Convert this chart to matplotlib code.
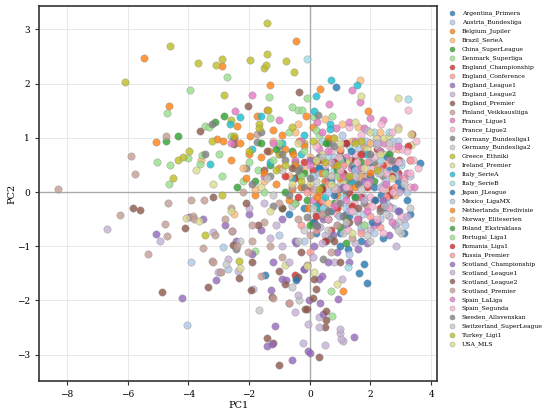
import matplotlib
matplotlib.use('Agg')
import matplotlib.pyplot as plt

leagues = ['Argentina_Primera', 'Austria_Bundesliga', 'Belgium_Jupiler', 'Brazil_SerieA',
           'China_SuperLeague', 'Denmark_Superliga', 'England_Championship', 'England_Conference',
           'England_League1', 'England_League2', 'England_Premier', 'Finland_Veikkausliiga',
           'France_Ligue1', 'France_Ligue2', 'Germany_Bundesliga1', 'Germany_Bundesliga2',
           'Greece_Ethniki', 'Ireland_Premier', 'Italy_SerieA', 'Italy_SerieB',
           'Japan_JLeague', 'Mexico_LigaMX', 'Netherlands_Eredivisie', 'Norway_Eliteserien',
           'Poland_Ekstraklasa', 'Portugal_Liga1', 'Romania_Liga1', 'Russia_Premier',
           'Scotland_Championship', 'Scotland_League1', 'Scotland_League2', 'Scotland_Premier',
           'Spain_LaLiga', 'Spain_Segunda', 'Sweden_Allsvenskan', 'Switzerland_SuperLeague',
           'Turkey_Ligi1', 'USA_MLS']

# PCA scores per league
pc1 = {
    'Argentina_Primera': [1.9, 1.62, 1.27, 0.86, 3.63, 2.1, 2.5, 1.4, 0.9, 2.8, 1.1, 2.3, 0.6, 1.7, 2.9, 3.1, 1.5, 0.4, 2.2, -1.46, 1.0, 2.6, 1.8, 0.7, 2.35, 1.2, 0.5, 2.95, 1.65, 0.2],
    'Austria_Bundesliga': [-4.03, -3.91, -2.7, 2.2, 1.1, 0.5, 1.8, 2.6, 0.2, 1.4, 2.9, -0.3, 0.9, 3.2, 1.6, 2.3, 0.7, -1.0, 1.95, 2.75, 1.25, 2.45, 0.3, 1.75, 2.9],
    'Belgium_Jupiler': [-5.46, -4.64, -5.06, -3.05, -2.89, -1.3, -0.45, -1.41, -1.75, -2.4, -1.96, -2.86, 0.35, 1.92, -0.12, -0.8, -1.0, -0.3, 0.2, 0.5, -1.6, -0.6, 0.9, 1.1],
    'Brazil_SerieA': [-3.6, 1.65, 1.06, 1.59, -1.0, 0.3, -0.5, 2.1, 0.7, -1.5, 2.9, 1.3, -0.2, 0.9, 2.5, -2.5, 0.1, 1.8],
    'China_SuperLeague': [-3.11, -4.33, -4.74, -2.83, -0.4, 0.8, -1.3, -0.9, 1.3, 0.1, -1.8, 0.5, -0.1, 1.0, -2.4, 1.2, 0.6, -0.6, 0.3, 1.6, -0.5],
    'Denmark_Superliga': [-3.94, -4.7, -3.46, -3.33, -5.02, -4.6, -4.0, -3.56, -3.62, -4.64, -2.73, -1.33, -0.57, -0.4, -0.24, -1.3, -2.6, -1.82, -0.08, 0.14, 0.73, -1.7, -2.2],
    'England_Championship': [-2.5, 0.1, 0.6, 1.2, 1.8, 2.4, 0.9, 1.5, 2.1, 3.38, -0.5, 0.3, 1.0, 2.7, 1.6, 0.0, -0.49, 2.9, 1.3, 0.7, 2.2, 0.4, 1.7, 2.95],
    'England_Conference': [-0.67, 0.9, 1.9, 2.8, -0.3, 1.3, 2.3, 0.4, 1.6, 3.1, 0.0],
    'England_League1': [-5.08, -4.22, -3.98, -3.53, -3.08, -2.42, -1.92, -1.28, -1.13, -1.42, -0.6, -0.06, -0.04, -0.78, -0.2, -1.2, 0.9, 0.3, 1.2, -0.9, 0.5, -2.0, 1.5, 0.15, 0.75, 1.9, -0.45, 2.6, 1.3],
    'England_League2': [-6.69, -4.92, -3.19, -3.03, -2.96, -2.36, -2.56, -2.69, -1.86, -0.49, -0.23, -0.06, 1.0, 1.1, 0.3, 0.8, 2.0, 2.6, 3.1, 1.5, -0.9, 0.5, 2.3, -1.5, 1.7, 0.35, 2.85, -1.3, 1.05],
    'England_Premier': [-5.81, -5.58, -4.88, -4.1, -3.36, -3.63, -2.32, -2.53, -1.94, -1.26, -1.4, -1.21, -1.0, -0.08, -0.82, -0.45, -0.39, -1.03, 0.3, 0.5, 0.15, -2.05, -2.51, -0.37, -1.5],
    'Finland_Veikkausliiga': [-8.28, -5.88, -5.77, -4.74, -6.24, -4.66, -4.76, -4.72, -5.34, -3.85, -3.8, -3.53, -3.21, -3.13, -2.93, -2.04, -1.89, -1.2, -0.67, -1.75, -2.6, -3.9, -1.5, -0.9],
    'France_Ligue1': [-1.91, -2.47, -1.0, -2.6, 1.4, 1.67, 0.63, 0.85, 1.98, 2.4, 1.8, 0.3, 1.2, 2.2, 2.8, 0.6, -0.5, 1.6, 2.6, 0.1, -1.5, 1.0, 3.0, 2.0, 1.35, 2.45, 0.9, 1.75, 2.9, 0.45, 2.1, 3.3],
    'France_Ligue2': [3.25, 2.9, 3.4, 3.55, 1.5, 2.2, 2.7, 1.1, 0.5, 1.9, 2.4, 3.1, 0.9, 1.6, 2.0, 2.6, 3.0, 1.3, 0.3, 0.7, 2.3, 1.8, 3.3, 2.8, 1.15, 2.05, 2.55, 1.45, 0.75, 3.05, 2.35, 1.7],
    'Germany_Bundesliga1': [-3.23, -3.45, -2.44, -1.73, 0.28, -0.8, 0.5, 1.2, -1.3, -0.2, 0.9, -2.1, 1.8, -0.5, 0.1, 1.4, -1.6, 2.4, 0.7, -1.0, 0.6, 1.0, -0.35, 1.6, -1.2, 2.1],
    'Germany_Bundesliga2': [-2.75, -1.66, -0.35, -0.57, 2.9, 1.5, 0.6, 1.9, 2.4, -0.6, 0.2, 1.0, 2.2, -1.2, 3.0, 1.3, -2.3, 0.9, 1.7, 0.4, 2.7, 1.1, -0.2, 2.0],
    'Greece_Ethniki': [-6.1, -4.6, -3.69, -3.09, -2.9, -1.4, -1.4, -1.97, -1.51, -0.79, -0.53, -3.23, -4.33, -4.17, -3.98, -4.52, -2.82, -1.37, -2.6, -2.51, -1.66, -1.0, -0.2, -3.44, -2.32],
    'Ireland_Premier': [-3.75, -3.2, -4.08, -3.66, -2.29, 1.68, 2.92, 3.32, 3.33, 2.17, 2.46, 2.6, 2.9, -0.5, 0.4, 1.2, -1.3, -0.8, 1.9, 0.9, 2.4, 1.1, 0.0],
    'Italy_SerieA': [-3.28, -2.3, -1.6, -2.63, 0.69, 1.56, 0.21, 0.15, 0.66, 0.66, -0.9, -0.3, 0.3, 1.0, -1.3, 1.5, -0.6, 0.9, -1.9, 2.0, 0.5, 0.45, 1.35, 0.2, 1.9, -0.2],
    'Italy_SerieB': [-0.08, 3.25, 2.11, 2.6, 1.3, 0.8, 2.3, 1.9, 0.4, 1.6, 2.8, 1.1, 0.1, 2.5, 1.27, 0.45, 1.5, 2.1, 0.6, 3.0],
    'Japan_JLeague': [1.78, -0.46, 2.0, 1.2, 0.3, 2.7, 1.6, 0.8, 3.0, 2.4, 1.3, -0.2, 0.55, 1.95, 2.55, 1.05, 3.3, 0.15, 1.45, 2.15, -0.7, 0.95, 2.05, 1.35, 0.7, 2.8, 1.0, 3.2],
    'Mexico_LigaMX': [-2.86, 1.5, 2.4, 0.8, 1.2, 2.0, 0.35, 3.0, 2.7, 1.7, -0.5, 0.6, 2.5, 1.05, 1.3, 2.1, -0.2, 3.3, 1.85, 0.95, 2.25, 3.15, 0.1],
    'Netherlands_Eredivisie': [-2.3, -1.2, -0.9, -2.0, -0.2, 0.1, -1.5, -0.5, 0.4, -2.6, -1.1, -0.7, 0.8, -0.35, -1.8, 0.6, 1.5, -0.05, -1.35, 0.25, 2.0, -2.1, 1.0, -0.55, 0.3],
    'Norway_Eliteserien': [-1.2, 0.5, 1.4, -0.7, 2.3, 0.0, 1.0, -2.2, 2.8, -0.4, 0.8, 1.7, -1.8, 2.6, 2.0, 0.6, 1.55],
    'Poland_Ekstraklasa': [1.7, 0.4, 1.5, -1.1, 0.9, -0.2, 2.1, 0.0, -1.6, 1.0, -0.8, 2.4, 1.2, 2.6, 0.55],
    'Portugal_Liga1': [-1.0, -0.2, 0.5, -2.0, -0.7, 1.2, 0.3, -1.5, 0.72, -2.9, -0.5, -3.0, 1.0, 0.2, -1.2, 0.69, 0.9, -0.3, 1.8],
    'Romania_Liga1': [-0.2, 0.4, 1.1, 1.9, 2.3, 0.8, 1.4, -0.8, 3.25, 2.6, 0.2, 1.7, 0.5, 1.2, -0.4, 2.7],
    'Russia_Premier': [0.6, 1.7, 2.5, 1.1, -0.1, 2.0, 3.3, 0.2, 1.4, 1.9, 0.9, 2.3],
    'Scotland_Championship': [-1.25, 0.6, 1.8, 2.4, 0.2, -0.5, 1.1, 2.9, 0.4, -1.6, 0.0, 1.46, -2.8, 0.92, 0.33, 0.42, 0.0, -0.19, 2.2, 0.45, -0.9, 1.6],
    'Scotland_League1': [-0.4, 0.4, 1.3, 2.8, 3.2, 1.8, 0.1, -1.1, 2.2, 0.7, 1.9, -2.0, 0.98, 1.02, 0.5, 0.3, 2.45, 1.6, 0.15, -0.7, 2.95],
    'Scotland_League2': [0.2, 0.55, 0.53, 0.1, -0.15, 1.0, -1.7, -0.9, 0.8, -2.1, -0.6, 1.3, -3.2, -1.4, 0.6, -0.3, 1.6, -1.9],
    'Scotland_Premier': [-3.2, -2.56, -2.41, -1.3, -0.4, 0.0, 0.7, -1.9, -3.5, -2.8, -1.0, 0.4, -0.6, -2.2, 0.9, -0.1, 1.4, -1.6],
    'Spain_LaLiga': [0.4, 1.5, 2.3, 1.1, 2.9, 0.8, 1.9, -0.3, 2.5, 1.3, 3.2, 0.0, 1.7, -1.2, 2.7, 2.0, 1.2, 2.65, 0.6, 1.55, 3.45, 0.25],
    'Spain_Segunda': [1.2, 2.1, 2.9, 1.7, 0.8, 2.5, 3.2, 1.4, 0.2, 2.2, 1.0, 2.7, 1.9, 3.5, 0.6, 2.4, 1.55, 2.75, 0.95, 2.05, 3.3, 1.25, 2.6],
    'Sweden_Allsvenskan': [0.45, -0.08, 0.25, 1.6, 2.0, -0.7, 0.8, 1.1, -1.9, 2.7, 0.0, -0.4, 1.3, 0.3, -0.9, 2.3, 0.6],
    'Switzerland_SuperLeague': [2.9, 1.7, 0.4, 2.3, 1.2, -0.9, 0.1, 2.6, -1.4, 1.9, 3.1, 0.7, 1.5, 2.5, 0.8, 3.3, -0.4],
    'Turkey_Ligi1': [-1.45, -1.66, -0.6, 0.1, -2.0, 0.5, 1.3, -1.1, -0.3, 0.8, -2.9, 2.2, 1.7, 0.3, 0.9, -0.8, 1.5],
    'USA_MLS': [0.13, -0.1, 1.5, 2.3, 0.7, -1.6, 1.0, 2.7, -2.6, 0.2, 1.8, -0.4, 2.0, -0.6, 1.4],
}

pc2 = {
    'Argentina_Primera': [-1.68, -1.49, -1.06, 1.94, 0.54, 0.1, -0.3, 0.6, -0.2, -0.6, 0.35, 0.75, -0.5, -0.9, 0.2, -0.75, -0.1, 0.05, -0.55, -1.53, -0.75, 0.4, 0.85, -0.35, -0.05, -0.4, 0.4, -0.35, 0.3, -0.75],
    'Austria_Bundesliga': [-2.46, -1.3, -1.42, 0.95, 0.5, 0.2, -0.1, 0.7, -0.4, 0.25, 0.35, 0.1, -0.6, 0.0, 0.8, -0.5, 0.9, -0.8, 0.3, -0.3, 0.05, 0.15, 0.65, -0.4, 0.95],
    'Belgium_Jupiler': [2.47, 1.58, 0.92, 0.97, 2.32, 1.98, 2.79, 1.51, 1.41, 1.21, 1.03, 0.95, 1.9, 1.5, 1.4, 0.8, 0.45, 0.1, 0.55, 0.2, 0.65, 0.05, -0.05, -1.82],
    'Brazil_SerieA': [0.59, 2.06, 1.26, 1.2, 0.7, 0.9, 1.1, 0.5, 0.3, 0.2, 0.8, 0.6, 0.4, -0.3, 0.05, -0.4, 0.0, 0.85],
    'China_SuperLeague': [1.29, 1.04, 0.95, 1.4, 0.3, -0.2, 0.5, -0.3, 0.15, 0.6, 0.2, -0.45, -0.15, -0.65, 0.1, -0.95, 0.95, 0.75, -0.3, 0.45, 0.55],
    'Denmark_Superliga': [1.89, 1.45, 1.22, 1.2, 0.55, 0.5, 0.62, 0.69, 0.52, 0.15, 2.13, 1.75, 1.57, 1.51, 1.52, 1.37, 1.03, -1.08, 1.74, 1.38, 1.4, 0.4, 0.2],
    'England_Championship': [1.0, 0.4, 0.2, -0.05, 0.3, 0.5, -0.3, 0.6, -0.15, 1.07, 0.25, -0.2, 0.75, 0.05, -0.5, 0.1, -1.53, 0.35, 0.0, -0.7, 0.8, 0.6, -0.1, 0.6],
    'England_Conference': [-2.04, -0.4, -0.25, 0.1, -0.6, 0.1, 0.4, -0.15, 0.65, 0.25, -1.1],
    'England_League1': [-0.77, -1.96, -0.46, -0.5, -1.63, -0.91, -1.15, -1.8, -2.47, -2.85, -3.1, -2.94, -1.99, -1.63, -1.42, -1.3, -1.1, -1.6, -0.6, -0.5, -0.3, -0.4, 0.2, -1.0, -0.8, -0.95, -0.95, -0.8, -1.3],
    'England_League2': [-0.68, -0.9, -0.73, -1.48, -1.47, -1.45, -0.72, -1.23, -1.79, -2.21, -2.78, -2.44, -2.6, -2.75, -2.3, -1.3, -0.7, -0.45, -0.5, -0.95, -1.0, -0.8, 0.1, -0.2, -0.7, -0.65, -1.0, -0.85, -1.6],
    'England_Premier': [-0.3, -0.33, -1.84, -0.67, -1.75, 1.12, -1.58, -0.97, -1.81, -1.94, -2.7, -2.79, -3.19, -2.16, -1.7, -1.59, -1.56, -1.45, -3.05, -2.5, -1.6, 1.58, 0.88, 1.85, 0.4],
    'Finland_Veikkausliiga': [0.05, 0.66, 0.34, 1.04, -0.42, -0.2, -0.59, -0.82, -1.15, -0.44, -0.5, -1.03, -1.27, -0.79, -1.47, -1.1, -0.9, -1.95, -2.04, 1.07, -0.3, -0.15, -0.55, -1.2],
    'France_Ligue1': [1.79, 1.49, 1.33, 0.91, 1.88, 1.67, 1.63, 1.18, 1.36, 1.32, 1.18, 0.8, 0.65, 0.4, 0.5, 0.2, 0.6, -0.1, -0.25, -0.15, 0.3, -0.45, 0.05, 0.9, 0.45, 0.9, 0.35, 0.7, 0.3, -0.35, -0.6, 0.6],
    'France_Ligue2': [1.51, 1.2, 0.6, 0.45, 0.7, 1.0, 0.8, 0.9, 0.5, 0.3, 0.05, 0.2, -0.2, 0.2, -0.1, -0.3, -0.45, 1.2, 0.0, 0.75, 0.55, -0.6, 0.1, 0.4, 0.3, 0.45, -0.1, -0.2, 1.0, 0.8, 1.25, 0.95],
    'Germany_Bundesliga1': [1.26, 0.7, -1.05, 0.93, 1.42, 0.6, 0.35, 0.0, 0.3, 0.1, 0.55, 0.45, -0.2, -0.2, -0.55, 0.5, 1.1, 0.3, -0.85, 0.85, 0.9, -0.2, 0.45, -0.55, -0.25, 0.55],
    'Germany_Bundesliga2': [-1.32, -2.17, -2.0, -1.76, -0.55, 0.5, -0.7, 0.3, -0.15, -0.25, 0.2, 0.15, 0.85, -0.05, -0.75, -0.25, -0.9, 0.45, 0.7, -0.45, 0.35, -0.75, -0.7, -0.9],
    'Greece_Ethniki': [2.03, 2.7, 2.38, 2.34, 2.45, 3.12, 2.55, 2.43, 2.29, 2.42, 2.22, 0.95, 0.6, 0.65, 0.76, 0.25, 1.79, 1.52, 1.32, 1.03, 1.26, 0.7, 0.9, -0.8, -1.27],
    'Ireland_Premier': [0.4, 0.15, -0.48, -0.53, -1.4, 1.77, 1.74, 1.07, 0.87, 0.99, 1.0, 1.04, 1.16, 0.45, 0.7, 0.55, -0.35, -1.35, 0.8, -1.7, 0.7, 0.2, 0.15],
    'Italy_SerieA': [0.51, 1.39, 1.4, 1.25, 2.06, 1.98, 1.78, 1.5, 1.26, 1.17, 0.9, 0.7, 0.45, 0.6, 0.55, 0.4, 0.25, 0.05, 0.8, 0.2, -0.1, -0.3, 0.2, -0.25, 0.7, 1.05],
    'Italy_SerieB': [2.45, 1.71, 1.11, 1.11, 0.85, 0.4, 0.6, 0.15, 0.95, 0.55, 0.3, -0.1, 0.3, -0.2, -1.38, -0.3, -0.35, 0.9, 0.65, 0.5],
    'Japan_JLeague': [-1.32, -1.63, 0.3, 0.9, 0.45, -0.05, 0.15, -0.05, 0.1, -0.85, -0.45, -0.3, -0.9, 0.55, 0.65, 0.6, -0.4, -0.55, 0.45, -0.15, -0.4, 0.05, -0.55, 0.75, 0.2, 0.45, -1.0, -0.15],
    'Mexico_LigaMX': [-1.02, 0.4, -0.2, 0.65, -0.3, 0.6, 0.35, 0.55, 0.95, -0.65, 0.5, 0.0, 0.2, 1.05, -1.15, -0.75, -0.9, 0.3, 0.95, -0.45, 0.35, -0.6, 0.3],
    'Netherlands_Eredivisie': [0.9, 1.15, 1.05, 0.7, 0.85, 1.2, 0.35, 0.5, 0.35, 0.6, 0.15, -0.15, 0.5, 0.95, -0.05, 1.0, 0.1, -0.3, 0.75, -0.1, 0.35, 0.25, 0.25, 0.7, 0.0],
    'Norway_Eliteserien': [0.95, 1.35, 0.95, 0.3, 1.1, 0.65, 0.8, 0.45, -0.05, 1.25, 0.1, 0.3, 0.05, 0.55, 0.9, -0.2, 0.55],
    'Poland_Ekstraklasa': [0.55, 0.1, -0.1, 0.8, 0.4, 0.35, 0.2, -0.6, 0.9, 0.65, 0.0, -0.25, -0.5, 0.7, 0.9],
    'Portugal_Liga1': [0.9, 0.75, 0.35, 0.55, 1.1, 0.25, 1.05, 0.0, -2.28, 0.3, -0.2, 0.7, 0.6, 1.15, 0.6, -1.82, 0.3, 0.3, -0.6],
    'Romania_Liga1': [0.55, 0.05, 0.35, 0.1, -0.3, 0.55, -0.25, 0.3, 0.85, -0.05, -0.45, 0.7, -0.9, 0.9, -0.1, 0.3],
    'Russia_Premier': [0.15, -0.75, -0.1, 0.5, 0.0, -0.45, 0.6, -0.7, 0.3, 0.55, 0.05, -0.65],
    'Scotland_Championship': [-2.8, -1.3, 0.2, -0.15, -0.6, -0.9, 0.1, -0.35, -1.55, -0.7, 0.6, -2.67, -0.6, -1.97, -2.04, -2.26, -2.97, -1.42, -0.55, -0.5, -1.6, -1.05],
    'Scotland_League1': [-1.9, -0.95, -0.35, -0.6, -0.45, -0.15, -1.2, -0.6, 0.9, 0.55, 1.15, -0.3, -2.52, -2.71, -2.83, -2.5, -0.25, 0.45, 0.05, -1.3, 0.0],
    'Scotland_League2': [-1.79, -2.36, -2.2, -1.95, -2.16, -1.3, -0.6, -0.3, -0.9, -0.2, 0.45, -0.55, -0.1, 0.75, -0.5, -1.1, -0.3, -1.3],
    'Scotland_Premier': [-1.29, -0.72, -1.0, -1.0, -0.5, -0.8, -1.1, -0.6, -0.15, -0.5, -0.2, -0.4, 0.1, 0.0, -0.6, -1.35, -0.85, -1.55],
    'Spain_LaLiga': [1.1, 0.95, 0.75, 0.3, 0.85, -0.25, -0.35, 0.95, 0.15, 1.3, 0.35, 0.5, 0.45, 0.9, -0.55, 0.2, -0.15, 0.6, 0.75, -0.5, 0.1, 1.3],
    'Spain_Segunda': [0.1, 0.65, 0.55, 1.05, 0.05, 0.35, 0.75, -0.35, 0.85, -0.5, 0.4, 1.1, 0.15, 0.95, -0.5, -0.75, 0.55, 0.0, 0.65, -0.25, 0.35, -0.7, 0.85],
    'Sweden_Allsvenskan': [-1.24, -0.46, -0.63, 0.15, 0.7, -0.05, 0.85, -0.45, 0.15, 0.6, 0.25, 0.4, 0.25, 0.65, 0.7, -0.35, -0.35],
    'Switzerland_SuperLeague': [-0.7, 0.05, 0.65, 0.35, -0.55, 0.4, -0.3, 0.9, 0.25, -0.8, 0.15, 0.3, 0.3, -0.4, 0.1, -0.3, -0.9],
    'Turkey_Ligi1': [2.35, 1.18, 1.2, 0.95, 0.75, 0.55, 0.3, 0.4, 0.2, 1.0, -0.05, 0.4, 0.95, 0.05, 0.5, 0.5, 0.9],
    'USA_MLS': [-1.47, -1.37, 1.3, 0.7, 0.15, 0.1, 0.9, 0.25, -0.35, 0.6, 0.45, 0.9, 1.1, 0.15, -0.75],
}

plt.rcParams['font.family'] = 'DejaVu Serif'

fig = plt.figure(figsize=(5.5, 4.12), dpi=100)
ax = fig.add_axes([0.071, 0.075, 0.724, 0.910])

cmap = plt.get_cmap('tab20')
for i, lg in enumerate(leagues):
    ax.scatter(pc1[lg], pc2[lg], s=28, color=cmap(i % 20), alpha=0.8,
               edgecolors='#888888', linewidths=0.3, label=lg, zorder=3)

ax.axhline(0, color='#aaaaaa', linewidth=1, zorder=2)
ax.axvline(0, color='#aaaaaa', linewidth=1, zorder=2)
ax.grid(True, color='#e8e8e8', linewidth=0.7, zorder=0)
ax.set_axisbelow(True)
for sp in ax.spines.values():
    sp.set_color('#333333')
    sp.set_linewidth(1.2)

ax.set_xlim(-8.92, 4.2)
ax.set_ylim(-3.49, 3.43)
ax.set_xticks([-8, -6, -4, -2, 0, 2, 4])
ax.set_yticks([-3, -2, -1, 0, 1, 2, 3])
ax.tick_params(labelsize=6.5, length=3, color='#333333')
ax.set_xlabel('PC1', fontsize=7, labelpad=1)
ax.set_ylabel('PC2', fontsize=7, labelpad=0)

ax.legend(loc='upper left', bbox_to_anchor=(1.012, 1.0), frameon=False,
          fontsize=4.4, labelspacing=0.5, handletextpad=0.5, markerscale=0.7,
          borderaxespad=0.3)

fig.savefig('out.png', dpi=100)
